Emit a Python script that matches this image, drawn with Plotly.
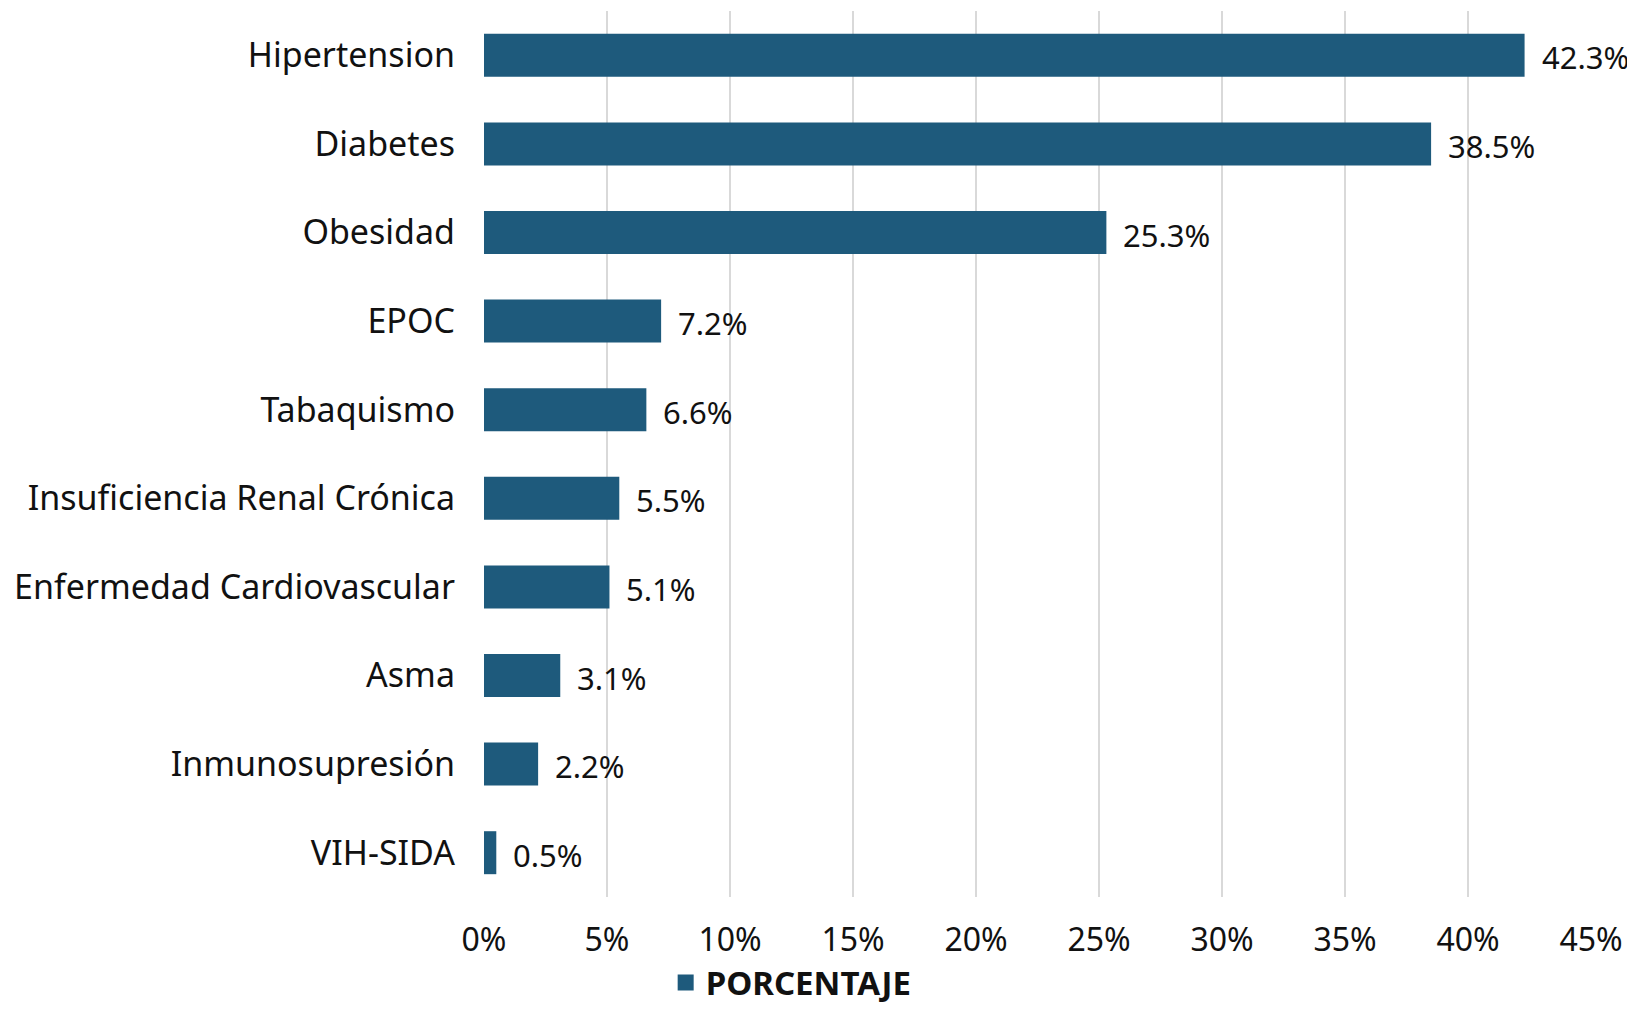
import plotly.graph_objects as go

categorias = ["Hipertension", "Diabetes", "Obesidad", "EPOC", "Tabaquismo",
              "Insuficiencia Renal Crónica", "Enfermedad Cardiovascular",
              "Asma", "Inmunosupresión", "VIH-SIDA"]
porcentaje = [42.3, 38.5, 25.3, 7.2, 6.6, 5.5, 5.1, 3.1, 2.2, 0.5]
ticks = [0, 5, 10, 15, 20, 25, 30, 35, 40, 45]
tick_labels = [f"{t}%" for t in ticks]
serie = "PORCENTAJE"

FONT = "Noto Sans"
BAR = "#1E5A7C"
INK = "#111111"

fig = go.Figure()
fig.add_trace(go.Bar(
    y=categorias, x=porcentaje, orientation="h",
    marker=dict(color=BAR, line=dict(width=0)),
    showlegend=False, name=serie,
))
# legend entry
fig.add_trace(go.Scatter(
    x=[None], y=[None], mode="markers", name=f"<b>{serie}</b>",
    marker=dict(symbol="square", size=18, color=BAR),
    showlegend=True,
))

for c, v in zip(categorias, porcentaje):
    fig.add_annotation(x=v, y=c, xref="x", yref="y", text=f"{v}%",
                       showarrow=False, xanchor="left", xshift=15, yshift=-2,
                       font=dict(family=FONT, size=31, color=INK))

fig.update_layout(
    width=1635, height=1012,
    margin=dict(l=476, r=52, t=3, b=123, autoexpand=False),
    paper_bgcolor="white", plot_bgcolor="rgba(0,0,0,0)",
    bargap=0.515,
    font=dict(family=FONT, size=33, color=INK),
    showlegend=True,
    legend=dict(orientation="h", xref="container", yref="container",
                x=0.479, y=0.037, xanchor="center", yanchor="middle",
                itemsizing="trace",
                font=dict(family=FONT, size=33, color=INK),
                bgcolor="rgba(0,0,0,0)"),
)
fig.update_xaxes(range=[0, 45], tickvals=ticks, ticktext=tick_labels,
                 showgrid=True, gridcolor="#d9d9d9", gridwidth=2,
                 zeroline=False, showline=False, ticks="",
                 ticklabelstandoff=21,
                 tickfont=dict(family=FONT, size=32, color=INK))
fig.update_yaxes(autorange="reversed", showgrid=False, showline=False,
                 ticks="", ticklabelstandoff=28,
                 tickfont=dict(family=FONT, size=34, color=INK))

fig.write_html("out.html")
